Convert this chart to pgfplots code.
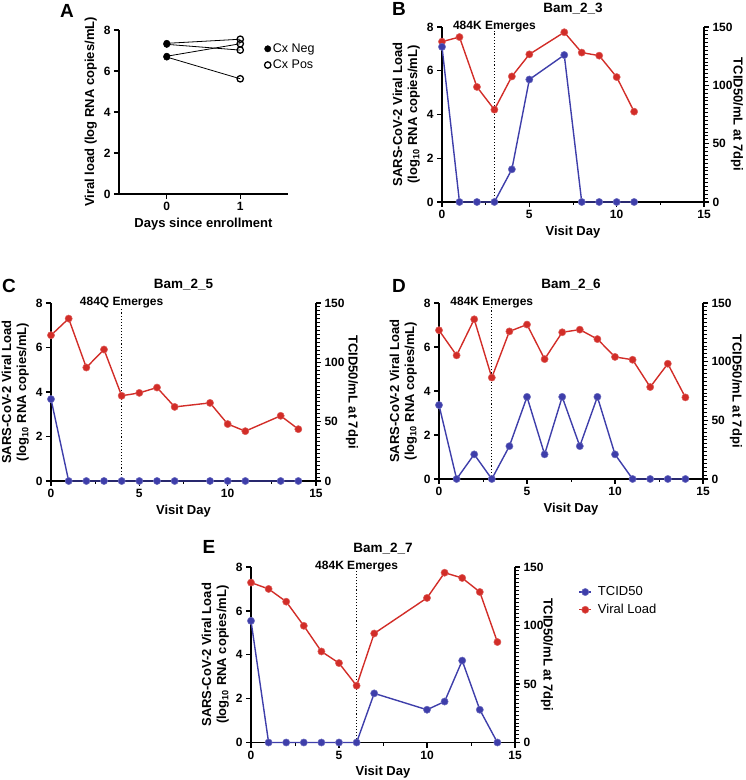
\documentclass[border=0pt]{standalone}
\usepackage{fontspec}
\setmainfont{Liberation Sans}
\usepackage{pgfplots}
\pgfplotsset{compat=1.18}
\definecolor{vred}{RGB}{210,45,40}
\definecolor{vblue}{RGB}{62,62,170}
\pgfplotsset{
  gp/.style={
    scale only axis, clip=false, anchor=south west,
    axis line style={line width=1.8pt},
    tick style={line width=1.3pt, black},
    tick align=outside,
    major tick length=5pt,
    /pgf/number format/assume math mode=true,
    tick label style={font=\fontsize{12}{12}\selectfont\bfseries},
    label style={font=\fontsize{13}{15}\selectfont\bfseries},
  },
  leftax/.style={gp, xmin=0, xmax=15, ymin=0, ymax=8,
    xtick={0,5,10,15}, ytick={0,2,4,6,8},
    axis x line*=bottom, axis y line*=left,
    xlabel={Visit Day},
    ylabel={SARS-CoV-2 Viral Load\\(log\textsubscript{10} RNA copies/mL)},
    ylabel style={align=center},
  },
  rightax/.style={gp, xmin=0, xmax=15, ymin=0, ymax=150,
    ytick={0,50,100,150},
    axis x line=none, axis y line*=right,
  },
  redl/.style={color=vred, line width=1.4pt, mark=*, mark size=3.6pt,
    mark options={fill=vred, draw=vred!75!white, line width=0.5pt}},
  bluel/.style={color=vblue, line width=1.4pt, mark=*, mark size=3.6pt,
    mark options={fill=vblue, draw=vblue!75!white, line width=0.5pt}},
  dotl/.style={black, dotted, line width=1.1pt},
}
\newcommand{\emtext}[2]{\node[font=\fontsize{12}{12}\selectfont\bfseries, anchor=base] at (axis cs:#1,8) [yshift=-2.8pt] {#2};}
\newcommand{\ttl}[1]{\node[font=\fontsize{13.5}{14}\selectfont\bfseries, anchor=base] at (rel axis cs:0.5,1) [yshift=14.5pt] {#1};}
\newcommand{\rlab}[1]{\node[font=\fontsize{13}{15}\selectfont\bfseries, rotate=-90, anchor=center] at ([xshift=#1]rel axis cs:1,0.5) {TCID50/mL at 7dpi};}
% minor ticks of the right axis (every 10/3 units)
\newcommand{\rcomb}{\addplot[only marks, mark=-, mark size=1.8pt, forget plot,
  mark options={xshift=2pt, line width=0.9pt, black}] coordinates {
  (15,3.33)(15,6.67)(15,10)(15,13.33)(15,16.67)(15,20)(15,23.33)(15,26.67)(15,30)(15,33.33)(15,36.67)(15,40)(15,43.33)(15,46.67)
  (15,53.33)(15,56.67)(15,60)(15,63.33)(15,66.67)(15,70)(15,73.33)(15,76.67)(15,80)(15,83.33)(15,86.67)(15,90)(15,93.33)(15,96.67)
  (15,103.33)(15,106.67)(15,110)(15,113.33)(15,116.67)(15,120)(15,123.33)(15,126.67)(15,130)(15,133.33)(15,136.67)(15,140)(15,143.33)(15,146.67)};}
\newcommand{\xcomb}{\addplot[only marks, mark=|, mark size=1.6pt, forget plot,
  mark options={yshift=-1.8pt, line width=0.9pt, black}] coordinates {(2.5,0)(7.5,0)(12.5,0)};}
\begin{document}
\begin{tikzpicture}
\useasboundingbox (0pt,0pt) rectangle (746pt,780pt);
\tikzset{letter/.style={font=\fontsize{19}{19}\selectfont\bfseries}}
\node[letter] at (67pt,769pt) {A};
\node[letter] at (399pt,771pt) {B};
\node[letter] at (9pt,494pt) {C};
\node[letter] at (399pt,494pt) {D};
\node[letter] at (209pt,233pt) {E};

% Panel A
\begin{axis}[gp, at={(119pt,586pt)}, width=169pt, height=164pt,
  xmin=-0.65, xmax=1.65, ymin=0, ymax=8, xtick={0,1}, ytick={0,2,4,6,8},
  axis x line*=bottom, axis y line*=left,
  xlabel={Days since enrollment},
  ylabel={Viral load (log RNA copies/mL)},
  legend style={draw=none, fill=none, at={(rel axis cs:0.86,0.93)}, anchor=north west,
    font=\fontsize{12.5}{12.5}\selectfont, row sep=2pt, inner sep=0pt,
    legend cell align=left},
  legend image code/.code={\draw[#1] plot coordinates {(2pt,0pt)};},
]
\addplot[black, line width=0.8pt, forget plot] coordinates {(0,7.35)(1,7.55)};
\addplot[black, line width=0.8pt, forget plot] coordinates {(0,7.30)(1,7.02)};
\addplot[black, line width=0.8pt, forget plot] coordinates {(0,6.72)(1,7.33)};
\addplot[black, line width=0.8pt, forget plot] coordinates {(0,6.68)(1,5.62)};
\addplot[only marks, mark=*, mark size=3.2pt, mark options={fill=black, draw=black}] coordinates {(0,7.35)(0,7.30)(0,6.72)(0,6.68)};
\addlegendentry{Cx Neg}
\addplot[only marks, mark=o, mark size=3.2pt, mark options={draw=black, fill=white, line width=1.3pt}] coordinates {(1,7.55)(1,7.02)(1,7.33)(1,5.62)};
\addlegendentry{Cx Pos}
\end{axis}

% Panel B
\begin{axis}[leftax, at={(442pt,578pt)}, width=262pt, height=175pt]
\xcomb
\addplot[dotl] coordinates {(3,0)(3,7.8)};
\addplot[redl] coordinates {(0,7.33)(1,7.54)(2,5.26)(3,4.22)(4,5.74)(5,6.75)(7,7.76)(8,6.83)(9,6.69)(10,5.71)(11,4.13)};
\emtext{3}{484K Emerges}
\ttl{Bam\_2\_3}
\end{axis}
\begin{axis}[rightax, at={(442pt,578pt)}, width=262pt, height=175pt]
\rcomb
\addplot[bluel] coordinates {(0,133)(1,0)(2,0)(3,0)(4,28)(5,105)(7,126)(8,0)(9,0)(10,0)(11,0)};
\rlab{33pt}
\end{axis}

% Panel C
\begin{axis}[leftax, at={(51pt,299pt)}, width=265pt, height=178pt]
\xcomb
\addplot[dotl] coordinates {(4,0)(4,7.8)};
\addplot[redl] coordinates {(0,6.55)(1,7.30)(2,5.10)(3,5.91)(4,3.83)(5,3.96)(6,4.20)(7,3.33)(9,3.51)(10,2.56)(11,2.24)(13,2.93)(14,2.33)};
\emtext{4}{484Q Emerges}
\ttl{Bam\_2\_5}
\end{axis}
\begin{axis}[rightax, at={(51pt,299pt)}, width=265pt, height=178pt]
\rcomb
\addplot[bluel] coordinates {(0,69)(1,0)(2,0)(3,0)(4,0)(5,0)(6,0)(7,0)(9,0)(10,0)(11,0)(13,0)(14,0)};
\rlab{36pt}
\end{axis}

% Panel D
\begin{axis}[leftax, at={(439pt,301pt)}, width=264pt, height=176pt]
\xcomb
\addplot[dotl] coordinates {(3,0)(3,7.8)};
\addplot[redl] coordinates {(0,6.76)(1,5.62)(2,7.26)(3,4.61)(4,6.71)(5,7.02)(6,5.45)(7,6.67)(8,6.79)(9,6.36)(10,5.55)(11,5.42)(12,4.18)(13,5.24)(14,3.71)};
\emtext{3}{484K Emerges}
\ttl{Bam\_2\_6}
\end{axis}
\begin{axis}[rightax, at={(439pt,301pt)}, width=264pt, height=176pt]
\rcomb
\addplot[bluel] coordinates {(0,63)(1,0)(2,21)(3,0)(4,28)(5,70)(6,21)(7,70)(8,28)(9,70)(10,21)(11,0)(12,0)(13,0)(14,0)};
\rlab{33pt}
\end{axis}

% Panel E
\begin{axis}[leftax, at={(251pt,37.5pt)}, width=264pt, height=175.5pt]
\xcomb
\addplot[dotl] coordinates {(6,0)(6,7.8)};
\addplot[redl] coordinates {(0,7.29)(1,7.00)(2,6.42)(3,5.32)(4,4.15)(5,3.62)(6,2.59)(7,4.97)(10,6.59)(11,7.74)(12,7.50)(13,6.86)(14,4.58)};
\emtext{6}{484K Emerges}
\ttl{Bam\_2\_7}
\end{axis}
\begin{axis}[rightax, at={(251pt,37.5pt)}, width=264pt, height=175.5pt,
  legend style={draw=none, fill=none, at={(rel axis cs:1.24,0.9)}, anchor=north west,
    font=\fontsize{13}{13}\selectfont, row sep=3pt, inner sep=0pt, legend cell align=left,
    /tikz/every odd column/.append style={column sep=4pt}},
  legend image code/.code={\draw[mark repeat=2, mark phase=2, #1] plot coordinates {(0pt,0pt)(6pt,0pt)(12pt,0pt)};},
]
\rcomb
\addplot[bluel] coordinates {(0,104)(1,0)(2,0)(3,0)(4,0)(5,0)(6,0)(7,42)(10,28)(11,35)(12,70)(13,28)(14,0)};
\addlegendentry{TCID50}
\addlegendimage{redl}
\addlegendentry{Viral Load}
\rlab{32pt}
\end{axis}
\end{tikzpicture}
\end{document}
